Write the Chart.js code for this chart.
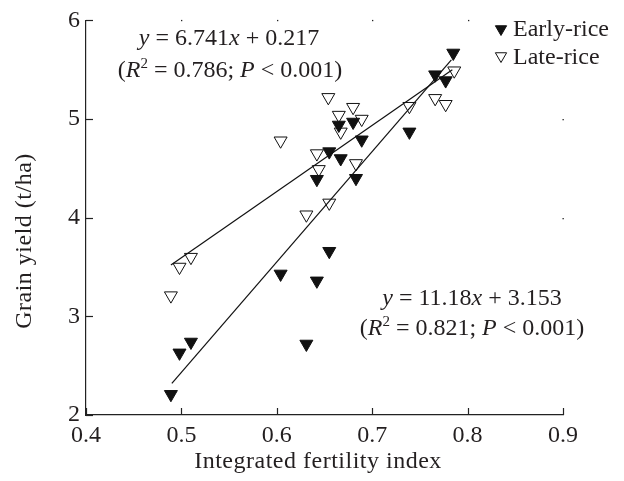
<!DOCTYPE html>
<html>
<head>
<meta charset="utf-8">
<script src="https://cdn.jsdelivr.net/npm/chart.js@4/dist/chart.umd.min.js"></script>
<style>
  html, body { margin: 0; padding: 0; background: #fff; }
  #wrap { width: 624px; height: 481px; position: relative; }
</style>
</head>
<body>
<div id="wrap"><canvas id="c" width="624" height="481"></canvas></div>
<script>
// ---- Data ----
const earlyX = [0.489, 0.498, 0.510, 0.604, 0.631, 0.642, 0.655, 0.642, 0.655, 0.667, 0.665, 0.680, 0.683, 0.689, 0.739, 0.766, 0.777, 0.785];
const earlyY = [2.21, 2.63, 2.74, 3.43, 2.72, 3.36, 3.66, 4.39, 4.67, 4.60, 4.94, 4.97, 4.40, 4.79, 4.87, 5.45, 5.39, 5.67];
const lateX  = [0.489, 0.498, 0.510, 0.604, 0.631, 0.642, 0.644, 0.655, 0.654, 0.665, 0.667, 0.680, 0.689, 0.683, 0.739, 0.766, 0.777, 0.786];
const lateY  = [3.21, 3.50, 3.60, 4.78, 4.03, 4.65, 4.49, 4.15, 5.22, 5.04, 4.87, 5.12, 5.00, 4.55, 5.13, 5.21, 5.15, 5.49];
// regression line end points
const earlyFitX = [0.490, 0.783];
const earlyFitY = [2.32, 5.60];
const lateFitX  = [0.489, 0.784];
const lateFitY  = [3.52, 5.50];
const seriesNames = ["Early-rice", "Late-rice"];
const xTicks = [0.4, 0.5, 0.6, 0.7, 0.8, 0.9];
const yTicks = [2, 3, 4, 5, 6];
const xTitle = "Integrated fertility index";
const yTitle = "Grain yield (t/ha)";

const pts = (xs, ys) => xs.map((x, i) => ({x: x, y: ys[i]}));
const SERIF = "'Liberation Serif', 'Times New Roman', serif";

// rich text helper: parts [{t, it, sup}]
function drawRich(ctx, parts, cx, baseline, size) {
  const fontFor = p => (p.it ? 'italic ' : '') + (p.sup ? Math.round(size * 0.62) : size) + 'px ' + SERIF;
  let w = 0;
  parts.forEach(p => { ctx.font = fontFor(p); w += ctx.measureText(p.t).width; });
  let x = cx - w / 2;
  ctx.textAlign = 'left';
  ctx.textBaseline = 'alphabetic';
  parts.forEach(p => {
    ctx.font = fontFor(p);
    ctx.fillText(p.t, x, baseline - (p.sup ? size * 0.38 : 0));
    x += ctx.measureText(p.t).width;
  });
}

const extras = {
  id: 'extras',
  afterDraw(chart) {
    const ctx = chart.ctx;
    const xs = chart.scales.x, ys = chart.scales.y;
    const area = chart.chartArea;
    ctx.save();
    ctx.strokeStyle = '#222';
    ctx.fillStyle = '#222';
    ctx.lineWidth = 1.2;
    // inward tick marks
    xTicks.forEach(v => {
      const px = Math.round(xs.getPixelForValue(v)) + 0.5;
      ctx.beginPath(); ctx.moveTo(px, area.bottom); ctx.lineTo(px, area.bottom - 7); ctx.stroke();
      if (v > 0.4 && v < 0.9) ctx.fillRect(px - 0.5, area.top - 0.5, 1.3, 1.3);
    });
    yTicks.forEach(v => {
      const py = Math.round(ys.getPixelForValue(v)) + 0.5;
      ctx.beginPath(); ctx.moveTo(area.left, py); ctx.lineTo(area.left + 7, py); ctx.stroke();
      if (v > 3 && v < 6) ctx.fillRect(area.right - 0.5, py - 0.5, 1.3, 1.3);
    });
    // axis titles
    ctx.fillStyle = '#231f20';
    ctx.font = '24px ' + SERIF;
    ctx.letterSpacing = '0.5px';
    ctx.textAlign = 'center';
    ctx.textBaseline = 'middle';
    ctx.fillText(xTitle, 318, 462);
    ctx.save();
    ctx.translate(25, 241);
    ctx.rotate(-Math.PI / 2);
    ctx.fillText(yTitle, 0, 0);
    ctx.restore();
    ctx.letterSpacing = '0px';

    // equations
    const S = 24;
    drawRich(ctx, [{t:'y', it:true}, {t:' = 6.741'}, {t:'x', it:true}, {t:' + 0.217'}], 229, 45, S);
    drawRich(ctx, [{t:'('}, {t:'R', it:true}, {t:'2', sup:true}, {t:' = 0.786; '}, {t:'P', it:true}, {t:' < 0.001)'}], 230, 77, S);
    drawRich(ctx, [{t:'y', it:true}, {t:' = 11.18'}, {t:'x', it:true}, {t:' + 3.153'}], 472, 305, S);
    drawRich(ctx, [{t:'('}, {t:'R', it:true}, {t:'2', sup:true}, {t:' = 0.821; '}, {t:'P', it:true}, {t:' < 0.001)'}], 472, 335, S);

    // legend
    const ds = chart.data.datasets;
    const legendRows = [{ds: ds[0], y: 29, ty: 36}, {ds: ds[1], y: 56, ty: 64}];
    legendRows.forEach(r => {
      ctx.save();
      ctx.fillStyle = r.ds.backgroundColor;
      ctx.strokeStyle = r.ds.borderColor;
      ctx.lineWidth = 1;
      const cx = 501, cy = r.y, rr = 6.5;
      ctx.beginPath();
      for (let k = 0; k < 3; k++) {
        const a = Math.PI + k * 2 * Math.PI / 3;
        const px = cx + Math.sin(a) * rr, py = cy - Math.cos(a) * rr;
        if (k === 0) ctx.moveTo(px, py); else ctx.lineTo(px, py);
      }
      ctx.closePath(); ctx.fill(); ctx.stroke();
      ctx.restore();
      ctx.fillStyle = '#231f20';
      ctx.font = '24px ' + SERIF;
      ctx.textAlign = 'left';
      ctx.textBaseline = 'alphabetic';
      ctx.fillText(r.ds.label, 513, r.ty);
    });
    ctx.restore();
  }
};

new Chart(document.getElementById('c'), {
  type: 'scatter',
  data: {
    datasets: [
      { label: seriesNames[0], data: pts(earlyX, earlyY), pointStyle: 'triangle', rotation: 180,
        pointRadius: 7.5, backgroundColor: '#111', borderColor: '#111', borderWidth: 1, order: 1 },
      { label: seriesNames[1], data: pts(lateX, lateY), pointStyle: 'triangle', rotation: 180,
        pointRadius: 7.5, backgroundColor: '#fff', borderColor: '#111', borderWidth: 1, order: 2 },
      { label: 'fit-early', type: 'line', data: pts(earlyFitX, earlyFitY), showLine: true, pointRadius: 0,
        borderColor: '#111', borderWidth: 1.2, fill: false, order: 0 },
      { label: 'fit-late', type: 'line', data: pts(lateFitX, lateFitY), showLine: true, pointRadius: 0,
        borderColor: '#111', borderWidth: 1.2, fill: false, order: 0 }
    ]
  },
  options: {
    responsive: false,
    animation: false,
    events: [],
    layout: { padding: { left: 0, top: 17, right: 61, bottom: 0 } },
    plugins: { legend: { display: false }, tooltip: { enabled: false } },
    scales: {
      x: {
        type: 'linear', min: 0.4, max: 0.9,
        afterFit: s => { s.height = 66; },
        afterBuildTicks: s => { s.ticks = xTicks.map(v => ({value: v})); },
        grid: { display: false, drawTicks: false },
        border: { display: true, color: '#222', width: 1.2 },
        ticks: { padding: 6, color: '#231f20', font: { family: SERIF, size: 24 }, callback: v => v.toFixed(1), maxRotation: 0 }
      },
      y: {
        type: 'linear', min: 2, max: 6,
        afterFit: s => { s.width = 86; },
        afterBuildTicks: s => { s.ticks = yTicks.map(v => ({value: v})); },
        grid: { display: false, drawTicks: false },
        border: { display: true, color: '#222', width: 1.2 },
        ticks: { padding: 6, color: '#231f20', font: { family: SERIF, size: 24 }, callback: v => String(v) }
      }
    }
  },
  plugins: [extras]
});
</script>
</body>
</html>
